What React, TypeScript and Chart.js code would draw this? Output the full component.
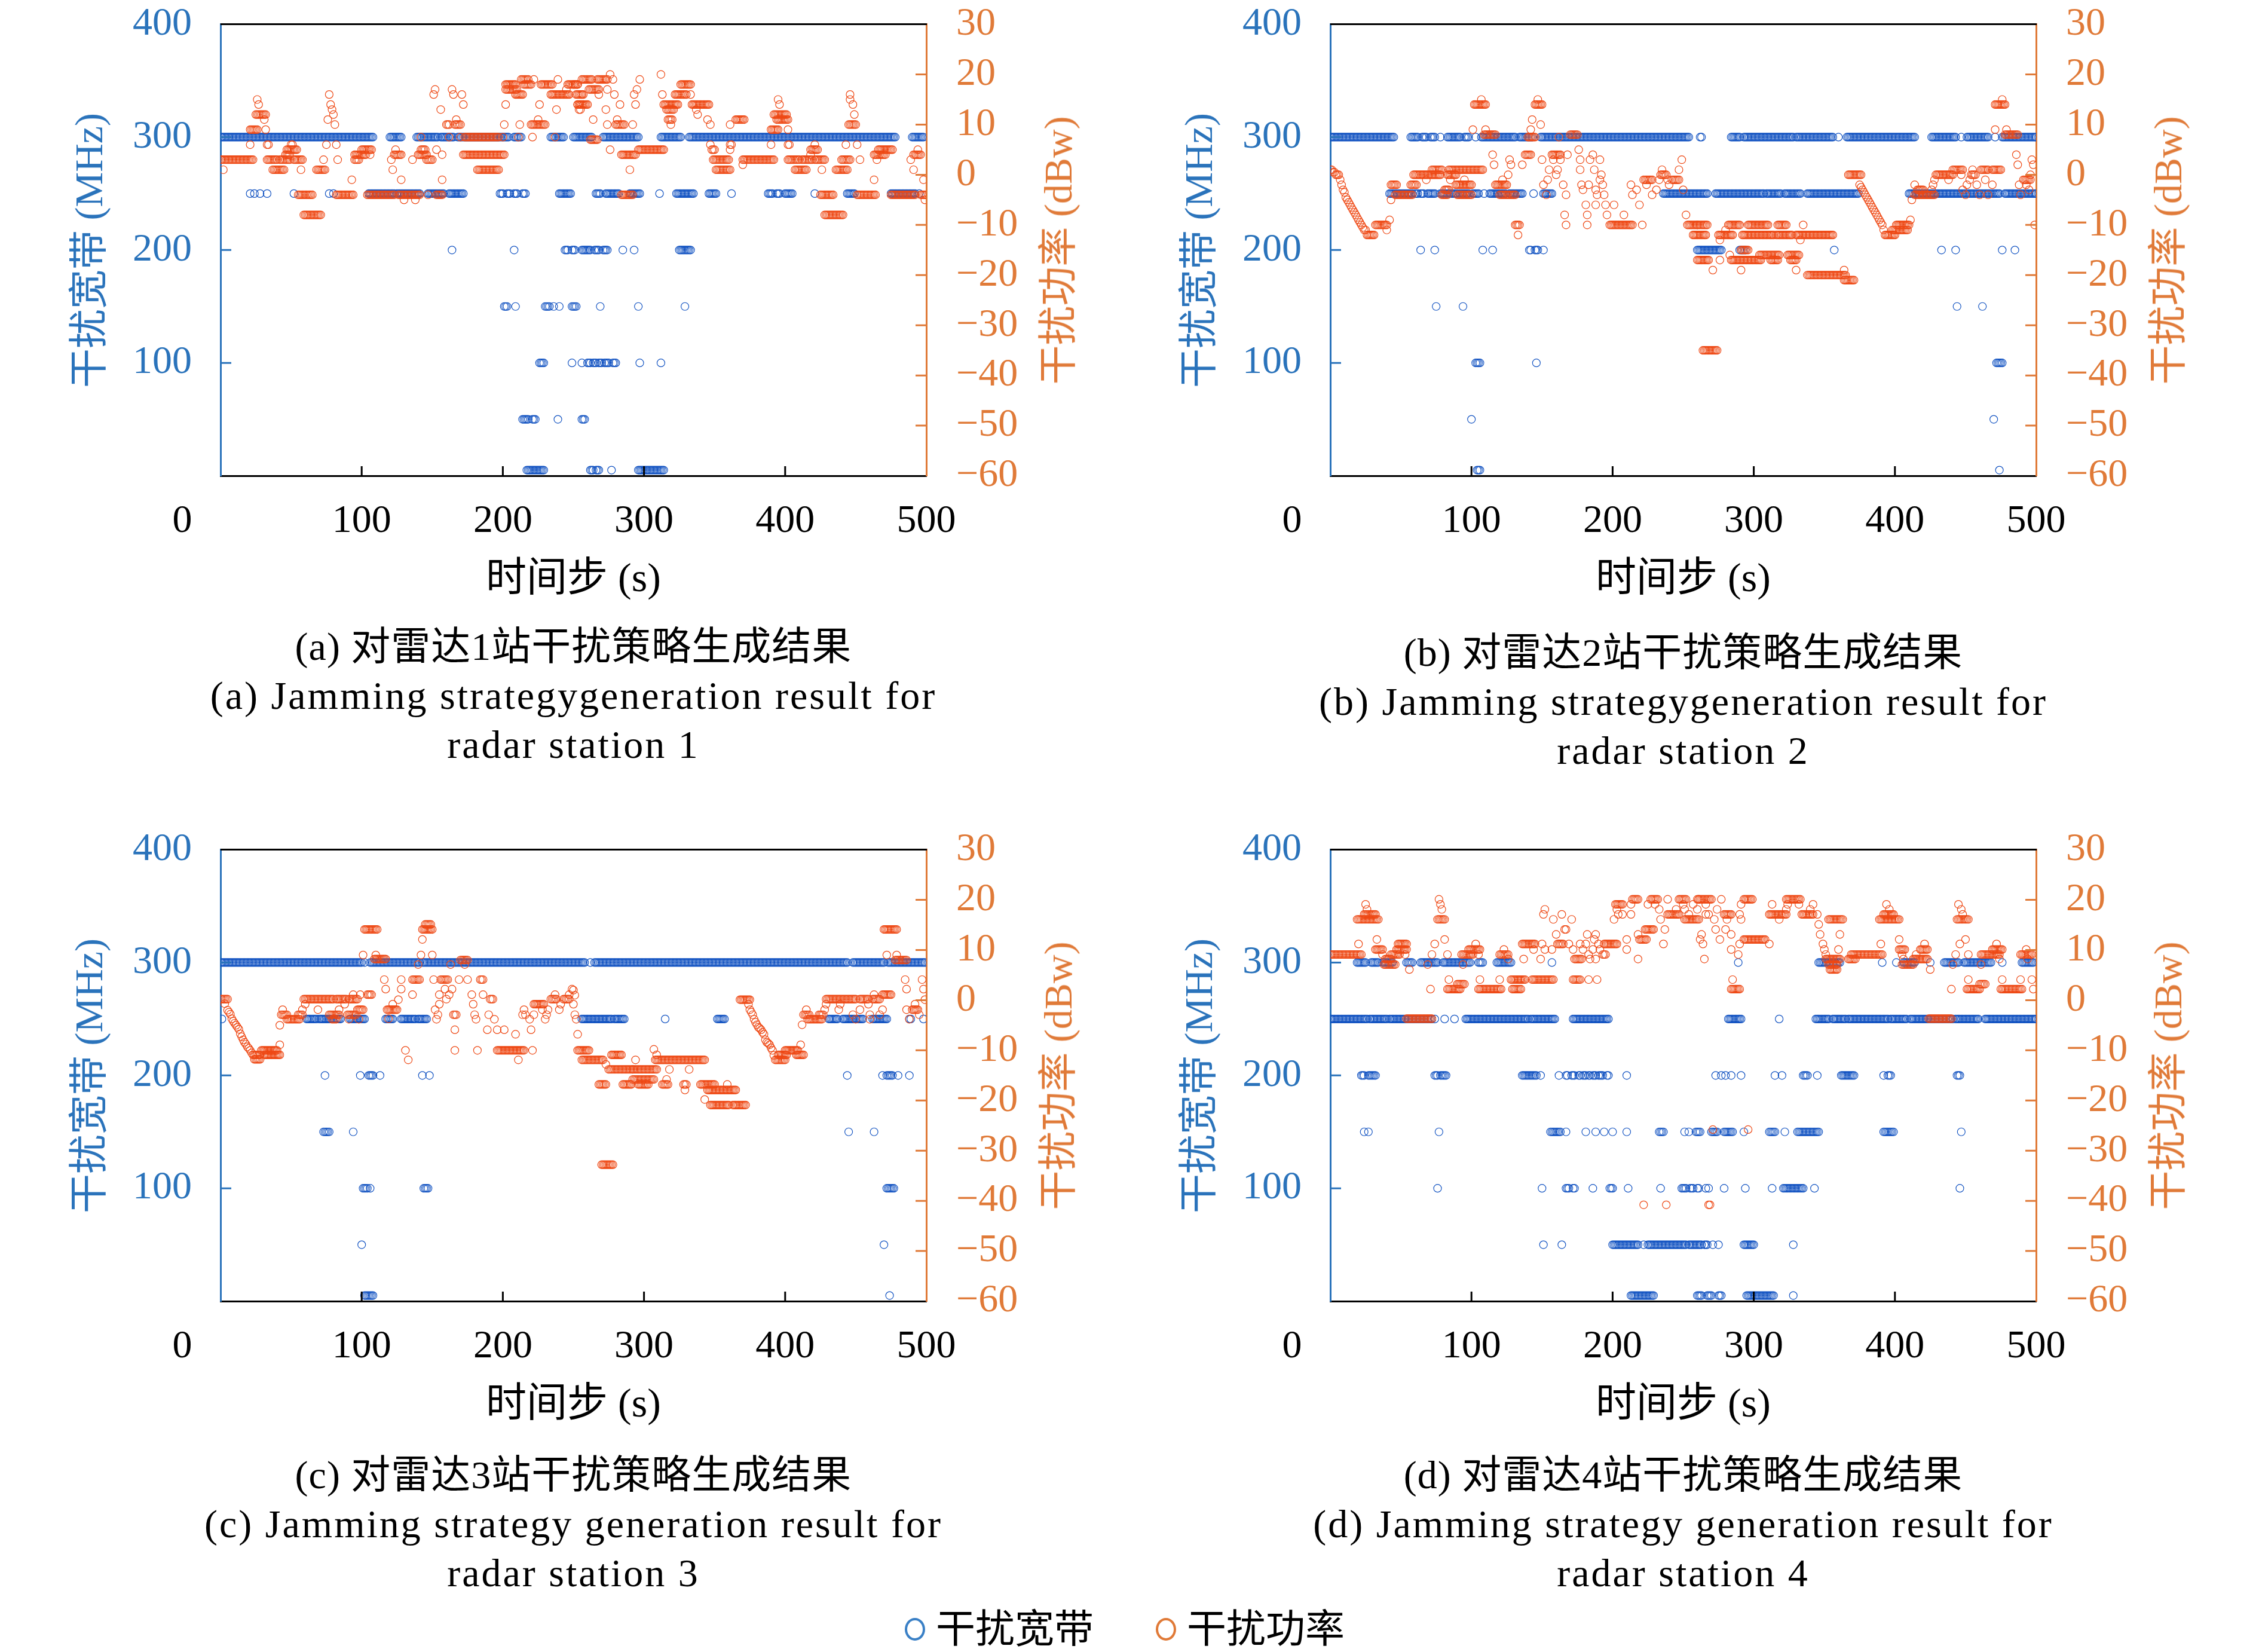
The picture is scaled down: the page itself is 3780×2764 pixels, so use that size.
import React, { useEffect, useRef } from 'react';
import { Chart, registerables } from 'chart.js';

Chart.register(...registerables);

// [first step, last step, value] - one marker per time step in the run
type Run = [number, number, number];

const X_TICKS = [100, 200, 300, 400, 500];
const BW_TICKS = [100, 200, 300, 400];
const PW_TICKS = [-60, -50, -40, -30, -20, -10, 0, 10, 20, 30];

// ---- radar station 1 ----
const A_BANDWIDTH: Run[] = [
  [0, 108, 300], [120, 128, 300], [139, 154, 300], [156, 165, 300], [168, 204, 300], [208, 213, 300], [234, 243, 300], [250, 263, 300], [271, 296, 300], [312, 326, 300], [332, 478, 300], [490, 498, 300],
  [21, 21, 250], [24, 24, 250], [28, 28, 250], [33, 33, 250], [52, 52, 250], [77, 77, 250], [80, 80, 250], [105, 123, 250], [125, 141, 250], [147, 158, 250], [162, 172, 250], [198, 200, 250], [203, 205, 250], [208, 210, 250], [214, 216, 250], [240, 248, 250], [266, 269, 250], [273, 282, 250], [290, 297, 250], [311, 311, 250], [323, 335, 250], [346, 351, 250], [362, 362, 250], [388, 391, 250], [394, 396, 250], [400, 405, 250], [421, 421, 250], [444, 449, 250], [475, 492, 250], [495, 495, 250],
  [164, 164, 200], [208, 208, 200], [244, 246, 200], [249, 251, 200], [256, 262, 200], [265, 268, 200], [271, 274, 200], [285, 285, 200], [293, 293, 200], [325, 333, 200],
  [201, 203, 150], [209, 209, 150], [230, 233, 150], [236, 236, 150], [240, 240, 150], [249, 252, 150], [269, 269, 150], [296, 296, 150], [329, 329, 150],
  [226, 229, 100], [249, 249, 100], [256, 256, 100], [260, 262, 100], [264, 266, 100], [268, 270, 100], [272, 275, 100], [278, 280, 100], [297, 297, 100], [312, 312, 100],
  [214, 218, 50], [221, 223, 50], [239, 239, 50], [256, 258, 50],
  [217, 229, 5], [262, 264, 5], [266, 268, 5], [277, 277, 5], [296, 314, 5],
];

const A_POWER: Run[] = [
  [0, 23, 3], [2, 2, 1], [21, 26, 9], [26, 26, 15], [27, 27, 14], [25, 32, 12], [31, 31, 11], [32, 32, 9], [21, 21, 6], [33, 34, 6],
  [33, 40, 3], [42, 49, 3], [52, 58, 3], [73, 73, 3], [83, 83, 3], [95, 98, 3],
  [37, 45, 1], [57, 57, 1], [68, 74, 1],
  [55, 65, -4], [82, 94, -4], [59, 71, -8],
  [46, 49, 4], [95, 103, 4], [106, 106, 4], [47, 54, 5], [100, 107, 5], [50, 51, 6], [75, 75, 6], [82, 82, 6],
  [76, 76, 11], [77, 77, 16], [78, 78, 14], [79, 79, 13], [80, 80, 12], [81, 81, 10], [93, 93, -1],
  [104, 123, -4], [126, 141, -4], [147, 147, -4], [153, 157, -4], [130, 130, -5], [138, 138, -5],
  [121, 121, 3], [136, 136, 3], [146, 150, 3], [122, 122, 1],
  [123, 128, 4], [140, 146, 4], [157, 157, 4], [124, 124, 5], [142, 145, 5], [153, 153, 5], [128, 128, -1], [157, 157, -1],
  [151, 151, 16], [152, 152, 17], [156, 156, 13], [160, 162, 10], [164, 164, 17], [165, 165, 16], [166, 170, 10], [167, 167, 11], [171, 171, 16], [172, 172, 14],
  [142, 142, 7.5], [162, 162, 7.5], [170, 170, 7.5], [173, 197, 7.5], [200, 200, 7.5], [211, 211, 7.5], [221, 221, 7.5], [237, 237, 7.5],
  [172, 201, 4], [182, 197, 1],
  [201, 201, 10], [202, 202, 14], [202, 210, 17], [202, 209, 18], [209, 214, 16], [212, 212, 10], [213, 218, 19], [215, 220, 18], [220, 230, 10], [222, 222, 19], [225, 225, 11], [226, 226, 14], [227, 235, 18], [234, 247, 16], [238, 238, 13], [239, 239, 19], [245, 245, 17], [246, 253, 18], [252, 257, 16], [253, 257, 14], [254, 254, 13], [256, 256, 19],
  [250, 253, 18], [253, 260, 14], [255, 255, 13], [256, 256, 16], [257, 263, 19], [261, 268, 17], [262, 267, 7], [264, 264, 11], [267, 274, 19], [268, 268, 16], [273, 273, 13], [274, 274, 10], [274, 274, 17], [276, 276, 20], [276, 276, 5], [278, 278, 19], [279, 279, 16], [280, 286, 10], [281, 281, 11], [283, 283, 14], [284, 294, 4], [284, 292, -4], [290, 290, 1], [292, 292, 10], [293, 293, 16], [294, 294, 14], [295, 295, 17], [296, 314, 5], [297, 297, 19],
  [312, 312, 20], [313, 313, 16], [314, 324, 14], [316, 321, 13], [317, 320, 11], [319, 319, 10], [322, 330, 16], [326, 333, 18], [333, 333, 16], [334, 346, 14], [337, 337, 13], [338, 338, 12], [345, 345, 11], [347, 347, 10], [347, 347, 6], [348, 350, 5], [349, 360, 3], [351, 361, 1], [361, 361, 10], [361, 361, 5], [361, 362, 6], [365, 371, 11], [370, 392, 3], [370, 370, 2],
  [390, 395, 9], [390, 390, 6], [392, 401, 12], [394, 402, 11], [395, 395, 15], [396, 396, 14], [402, 402, 9], [402, 403, 6], [402, 410, 3], [407, 415, 1], [412, 419, 3], [418, 423, 5], [418, 418, 4], [421, 421, 6], [421, 428, 3], [425, 434, -4], [426, 426, 1], [428, 441, -8],
  [436, 444, 1], [440, 446, 3], [443, 443, 6], [445, 450, 10], [446, 446, 15], [446, 446, 16], [448, 448, 14], [449, 449, 12], [451, 451, 6], [451, 464, -4], [453, 453, 3], [463, 463, -1], [463, 471, 4], [465, 465, 3], [466, 476, 5], [475, 492, -4], [489, 489, 3], [491, 496, 4], [491, 491, 1], [494, 494, 5], [496, 500, -4], [498, 498, -1], [499, 499, -5],
];

// ---- radar station 2 ----
const B_BANDWIDTH: Run[] = [
  [0, 45, 300], [57, 62, 300], [65, 68, 300], [71, 74, 300], [78, 78, 300], [83, 92, 300], [95, 98, 300], [103, 103, 300], [107, 131, 300], [134, 143, 300], [149, 254, 300], [262, 263, 300], [284, 290, 300], [293, 328, 300], [330, 356, 300], [360, 360, 300], [366, 414, 300], [426, 443, 300], [447, 447, 300], [451, 466, 300], [471, 471, 300], [476, 500, 300],
  [42, 58, 250], [60, 62, 250], [64, 66, 250], [69, 74, 250], [78, 90, 250], [92, 98, 250], [101, 105, 250], [109, 109, 250], [113, 124, 250], [127, 136, 250], [144, 144, 250], [151, 157, 250], [236, 267, 250], [273, 307, 250], [309, 319, 250], [322, 333, 250], [338, 374, 250], [410, 474, 250], [478, 500, 250],
  [64, 64, 200], [74, 74, 200], [108, 108, 200], [115, 115, 200], [141, 142, 200], [145, 147, 200], [151, 151, 200], [260, 277, 200], [290, 294, 200], [357, 357, 200], [433, 433, 200], [443, 443, 200], [476, 476, 200], [485, 485, 200],
  [75, 75, 150], [94, 94, 150], [444, 444, 150], [462, 462, 150],
  [103, 106, 100], [146, 146, 100], [472, 476, 100],
  [100, 100, 50], [470, 470, 50],
  [104, 106, 5], [474, 474, 5],
];

const B_POWER: Run[] = [
  [0, 1, 1], [2, 3, 0.5], [4, 6, 0], [7, 7, -1], [8, 8, -2], [9, 9, -3], [10, 10, -3.5], [11, 11, -4.5], [12, 12, -5], [13, 13, -5.5], [14, 14, -6], [15, 15, -6.5], [16, 16, -7], [17, 17, -7.5], [18, 18, -8], [19, 19, -8.5], [20, 20, -9], [21, 21, -9.5], [22, 22, -10], [23, 23, -10.5], [24, 25, -11], [26, 31, -12], [32, 40, -10], [40, 40, -11], [42, 42, -9], [43, 43, -5], [43, 47, -2], [46, 58, -4],
  [57, 61, -2], [59, 78, 0], [68, 68, -1], [72, 79, 1], [79, 83, -4], [81, 84, -3], [83, 89, 0], [84, 108, 1], [85, 85, -1], [89, 99, -2], [90, 100, -4], [95, 95, -1], [100, 100, -2],
  [101, 101, 9], [102, 110, 14], [107, 107, 15], [109, 117, 8], [110, 110, 9], [115, 115, 4], [116, 116, 2], [117, 125, -2], [120, 131, -4], [122, 122, -1], [126, 126, 0], [127, 127, 3], [128, 128, 2], [131, 134, -10], [133, 133, -12], [136, 136, 2], [138, 142, 4], [140, 145, 7.5], [142, 142, 9], [143, 143, 11], [145, 150, 14], [147, 147, 15], [149, 149, 10],
  [150, 150, 3], [151, 151, -2], [153, 153, -4], [154, 154, -1], [155, 155, 1], [157, 163, 4], [158, 158, 3], [160, 160, 0], [161, 161, 1], [162, 162, 7.5], [163, 163, 3], [165, 165, -2], [166, 166, -8], [167, 167, -10], [167, 167, -4], [168, 168, 4], [170, 175, 8], [176, 176, 5], [177, 177, 3], [177, 177, 1], [178, 178, -2], [179, 179, -3], [181, 181, -6], [182, 182, -8], [182, 182, -10], [183, 183, -2], [184, 184, 3], [186, 186, 4], [187, 187, 1], [188, 188, -3], [188, 188, -6], [189, 189, -4], [191, 191, 3], [191, 191, -1], [192, 192, 0], [193, 193, -2], [194, 194, -4], [195, 195, -6], [196, 196, -8], [198, 214, -10], [201, 201, -6], [208, 208, -8], [213, 213, -2], [214, 214, -4], [217, 217, -3], [219, 219, -6], [221, 221, -10], [222, 228, -1], [224, 224, -2], [228, 228, -4], [231, 231, -3], [233, 233, -1], [234, 238, 0], [235, 235, 1], [239, 239, -1], [240, 240, -2], [242, 247, -1], [247, 247, 1], [249, 249, 3], [250, 250, -3], [252, 252, -8], [253, 260, -10], [257, 266, -12], [260, 268, -17], [264, 274, -35],
  [260, 267, -10], [275, 285, -12], [276, 276, -13], [271, 271, -19], [276, 276, -17], [280, 280, -11], [282, 290, -10], [283, 283, -16], [284, 305, -17], [291, 296, -15], [291, 291, -19], [292, 314, -12], [296, 310, -10], [304, 318, -16], [312, 317, -17], [316, 327, -12], [317, 323, -10], [324, 332, -16], [326, 330, -17], [330, 330, -19], [330, 356, -12], [333, 333, -13], [335, 335, -10], [338, 365, -20], [364, 364, -19], [364, 371, -21],
  [367, 376, 0], [375, 375, -2], [376, 376, -2.5], [377, 377, -3], [378, 378, -3.5], [379, 379, -4], [380, 380, -4.5], [381, 381, -5], [382, 382, -5.5], [383, 383, -6], [384, 384, -6.5], [385, 385, -7], [386, 386, -7.5], [387, 387, -8], [388, 388, -8.5], [389, 389, -9], [390, 390, -9.5], [391, 391, -10], [392, 392, -11], [393, 400, -12], [398, 409, -11], [401, 410, -10], [411, 411, -9], [412, 412, -5], [414, 414, -2], [414, 428, -4], [416, 420, -3], [426, 426, -3], [427, 427, -2], [428, 428, -1], [429, 441, 0], [438, 438, -1], [441, 448, 1], [447, 447, 0], [448, 448, -3], [450, 450, -4], [451, 451, -2], [453, 453, -1], [454, 457, 0], [455, 455, 1], [458, 458, -2], [460, 460, -4], [461, 466, 1], [464, 464, -1], [466, 466, -4], [469, 469, -2], [469, 475, 1], [471, 471, 9], [471, 478, 14], [476, 476, 15], [478, 487, 8], [479, 479, 9], [486, 486, 4], [487, 487, 2], [488, 488, -2], [489, 489, -4], [491, 496, -1], [493, 493, -2], [495, 495, -3], [496, 496, 0], [497, 497, 3], [498, 498, 2], [499, 499, -10],
];

// ---- radar station 3 ----
const C_BANDWIDTH: Run[] = [
  [0, 100, 300], [102, 102, 300], [106, 141, 300], [143, 258, 300], [262, 262, 300], [265, 444, 300], [448, 470, 300], [473, 499, 300],
  [1, 1, 250], [61, 68, 250], [70, 85, 250], [92, 102, 250], [117, 122, 250], [128, 138, 250], [140, 146, 250], [256, 277, 250], [279, 286, 250], [315, 315, 250], [352, 357, 250], [431, 437, 250], [441, 455, 250], [462, 472, 250], [488, 489, 250], [498, 498, 250],
  [74, 74, 200], [99, 99, 200], [105, 108, 200], [113, 113, 200], [143, 143, 200], [148, 148, 200], [444, 444, 200], [469, 469, 200], [472, 476, 200], [480, 480, 200], [488, 488, 200],
  [73, 77, 150], [94, 94, 150], [445, 445, 150], [463, 463, 150],
  [101, 104, 100], [106, 106, 100], [144, 147, 100], [472, 477, 100],
  [100, 100, 50], [470, 470, 50],
  [102, 108, 5], [474, 474, 5],
];

const C_POWER: Run[] = [
  [0, 5, 0.2], [3, 3, -0.7], [5, 5, -2], [6, 6, -2.4], [7, 7, -2.8], [8, 8, -3.7], [9, 9, -4.2], [10, 10, -4.6], [11, 11, -5], [12, 12, -5.4], [13, 13, -5.8], [14, 14, -6.7], [15, 15, -7.3], [16, 16, -7.9], [17, 17, -8.4], [18, 18, -8.8], [19, 19, -9.3], [20, 20, -9.6], [21, 21, -10], [22, 22, -10.5], [23, 28, -10.9], [24, 28, -11.8], [29, 40, -10], [31, 42, -10.9], [42, 42, -8.9], [42, 42, -5],
  [43, 47, -2.9], [44, 44, -1.9], [47, 56, -3.8], [55, 58, -2.9], [58, 58, -1.9], [59, 80, 0.2], [60, 60, -0.8], [69, 69, -1.9], [77, 84, -2.9], [79, 82, -3.8], [82, 89, 0.2], [84, 84, -1.9], [88, 88, -0.8], [90, 96, -2.9], [91, 91, -3.8], [91, 97, 0.2], [94, 94, 1.1], [97, 101, -1.9], [98, 98, -3.8], [99, 99, 1.1], [104, 107, 1.1],
  [101, 101, 9], [102, 111, 14.1], [109, 117, 8.2], [110, 110, 9], [116, 116, 4.1], [117, 117, 2.2], [118, 125, -1.9], [119, 119, -3.7], [122, 122, -0.8], [126, 126, 0.1], [128, 128, 4.1], [128, 128, 2.2], [131, 131, -10], [133, 133, -11.9], [136, 136, 1.1], [136, 141, 4.1], [140, 140, 7.1], [142, 142, 9], [143, 143, 12.1], [143, 150, 14.1], [145, 149, 15.1], [150, 150, 9],
  [151, 151, 4.1], [152, 152, -1.9], [153, 153, -3.8], [154, 154, -2.9], [155, 155, -0.8], [155, 155, 1.1], [156, 161, 4.1], [159, 159, 2.2], [160, 160, 0.2], [162, 162, 1.1], [163, 163, 7.1], [164, 164, 2.2], [165, 167, -2.9], [166, 166, -5.9], [166, 166, -10], [169, 169, 4.1], [170, 175, 8], [173, 173, 7.1], [175, 175, 4.1], [178, 178, 1.1], [179, 179, -0.8], [180, 180, -2.9], [181, 181, -3.8], [182, 182, -10], [184, 186, 4.1], [186, 186, 1.1], [189, 189, -5.9], [190, 190, -2.9], [191, 193, 0.2], [194, 194, -3.8], [196, 196, -5.9], [196, 215, -10], [201, 201, -5.9], [209, 209, -6.8], [211, 211, -11.9], [214, 214, -2.9], [215, 215, -1.9], [216, 216, -2.9], [219, 219, -3.8], [220, 220, -5.9], [221, 221, -10], [222, 222, -2.9], [222, 229, -0.8], [228, 228, -1.9], [230, 230, -3.8], [231, 231, -2.9], [232, 232, -1.9], [234, 238, 0.2], [237, 237, 1.1], [240, 240, -1.9], [241, 241, -0.8], [243, 247, 0.2], [247, 247, 1.1], [249, 249, 2.2], [250, 250, -0.8], [251, 251, -2.9], [252, 252, -3.8], [253, 253, -6.8], [253, 261, -10], [256, 271, -11.9],
  [250, 250, 2], [251, 251, 1], [268, 273, -16.8], [270, 278, -32.8], [273, 273, -12.8], [275, 280, -13.8], [277, 284, -10.9], [281, 292, -13.8], [285, 291, -16.8], [292, 307, -15.8], [292, 309, -13.8], [294, 294, -11.9], [296, 303, -16.8], [307, 307, -9.8], [308, 343, -11.9], [309, 309, -10.9], [313, 317, -16.8], [316, 316, -15.8], [318, 318, -13.8], [328, 330, -16.8], [329, 329, -17.9], [332, 332, -13.8], [340, 350, -16.8], [343, 343, -19.8], [345, 365, -17.9], [347, 360, -20.9], [359, 359, -16.8], [363, 372, -20.9],
  [368, 375, 0.1], [374, 374, -0.8], [375, 375, -1.9], [376, 376, -2.4], [377, 377, -2.9], [378, 378, -3.8], [379, 379, -4.4], [380, 380, -4.9], [381, 381, -5.4], [382, 382, -5.6], [383, 383, -5.9], [384, 384, -6.4], [385, 385, -6.8], [386, 386, -7.9], [387, 387, -8.4], [388, 388, -8.6], [389, 389, -8.9], [390, 390, -9.5], [391, 391, -10], [392, 392, -11], [393, 400, -11.9], [395, 401, -10.9], [400, 409, -10], [408, 413, -10.9], [411, 411, -8.9], [412, 412, -4.9], [413, 417, -2.9], [415, 415, -1.9], [416, 426, -3.8], [424, 427, -2.9], [428, 428, -1.9], [429, 429, -0.8], [429, 450, 0.2], [438, 438, -1.9], [439, 439, -0.8], [448, 448, -2.9], [450, 450, -3.8], [453, 453, -1.9], [453, 459, 0.2], [459, 459, -0.8], [460, 460, -2.9], [460, 460, -3.8], [462, 467, 0.2], [463, 463, 1.1], [467, 467, -2.9], [469, 469, -1.9], [469, 475, 1.1], [470, 479, 14.1], [472, 472, 9], [478, 486, 8], [479, 479, 9], [485, 485, 4.1], [486, 486, 2.2], [486, 486, -1.9], [488, 488, -3.8], [490, 494, -1.9], [492, 492, -0.8], [495, 495, -2.9], [497, 497, 4.1], [498, 498, 2.2], [499, 499, 0.1],
];

// ---- radar station 4 ----
const D_BANDWIDTH: Run[] = [
  [19, 25, 300], [29, 34, 300], [37, 44, 300], [54, 58, 300], [64, 76, 300], [80, 99, 300], [105, 108, 300], [118, 128, 300], [157, 157, 300], [289, 289, 300], [346, 361, 300], [391, 391, 300], [401, 401, 300], [406, 414, 300], [425, 425, 300], [435, 445, 300], [449, 468, 300], [476, 476, 300], [490, 498, 300],
  [0, 26, 250], [28, 40, 250], [42, 72, 250], [74, 74, 250], [81, 81, 250], [88, 88, 250], [96, 140, 250], [142, 159, 250], [172, 197, 250], [282, 291, 250], [318, 318, 250], [344, 353, 250], [356, 365, 250], [367, 395, 250], [397, 408, 250], [411, 441, 250], [443, 459, 250], [464, 500, 250],
  [22, 24, 200], [27, 32, 200], [74, 76, 200], [78, 82, 200], [136, 146, 200], [149, 149, 200], [162, 162, 200], [167, 168, 200], [171, 173, 200], [176, 177, 200], [179, 181, 200], [183, 184, 200], [186, 188, 200], [190, 193, 200], [196, 197, 200], [210, 210, 200], [273, 273, 200], [277, 277, 200], [280, 280, 200], [284, 284, 200], [291, 291, 200], [315, 315, 200], [320, 320, 200], [335, 338, 200], [345, 345, 200], [362, 371, 200], [392, 392, 200], [395, 397, 200], [444, 446, 200],
  [24, 24, 150], [27, 27, 150], [77, 77, 150], [156, 163, 150], [167, 167, 150], [181, 181, 150], [188, 188, 150], [194, 194, 150], [200, 200, 150], [210, 210, 150], [233, 236, 150], [251, 251, 150], [254, 254, 150], [259, 262, 150], [270, 274, 150], [279, 285, 150], [293, 293, 150], [311, 315, 150], [322, 322, 150], [331, 346, 150], [392, 399, 150], [447, 447, 150],
  [76, 76, 100], [150, 150, 100], [167, 169, 100], [172, 173, 100], [186, 186, 100], [198, 200, 100], [211, 211, 100], [234, 234, 100], [249, 252, 100], [255, 257, 100], [260, 261, 100], [266, 266, 100], [268, 268, 100], [279, 279, 100], [294, 294, 100], [313, 313, 100], [321, 335, 100], [343, 343, 100], [446, 446, 100],
  [151, 151, 50], [164, 164, 50], [200, 218, 50], [222, 222, 50], [225, 252, 50], [254, 263, 50], [265, 267, 50], [271, 271, 50], [275, 275, 50], [293, 300, 50], [328, 328, 50],
  [213, 229, 5], [260, 263, 5], [267, 270, 5], [275, 277, 5], [295, 314, 5], [328, 328, 5],
];

const D_POWER: Run[] = [
  [0, 22, 9.1],
  [19, 34, 16.1], [24, 32, 17.1], [26, 26, 18.1], [25, 25, 19.1], [20, 20, 11.2], [33, 33, 12.1], [32, 37, 10.1], [37, 37, 9.1], [38, 46, 7.1], [39, 43, 8.2], [43, 49, 9.1], [47, 54, 10.1], [48, 54, 11.2], [53, 53, 9.1], [56, 56, 6.1], [54, 72, -3.7], [69, 69, 7.1], [71, 71, 2.2], [72, 72, 9.1], [74, 74, 11.2],
  [77, 77, 20.1], [78, 78, 19.1], [79, 79, 18.1], [76, 81, 16.1], [81, 81, 12.1], [83, 83, 9.1], [84, 84, 4.1], [83, 92, 2.2], [90, 95, 3.2], [94, 94, 7.1], [93, 101, 9.1], [98, 106, 10.1], [103, 103, 11.2], [105, 105, 9.1], [106, 106, 4.1], [105, 121, 2.2], [120, 120, 4.1], [120, 126, 9.1], [123, 123, 10.1], [126, 126, 8.2],
  [128, 135, 4.1], [129, 135, 2.2], [133, 138, 4.1], [137, 137, 8.2], [136, 145, 11.2], [144, 144, 10.1], [143, 150, 4.1], [149, 149, 8.2], [150, 150, 11.2], [151, 151, 17.1], [152, 152, 18.1], [152, 152, 10.1], [151, 158, 4.1], [157, 157, 10.1], [158, 158, 16.1], [160, 160, 13.1], [161, 165, 11.2], [164, 164, 17.1], [166, 167, 14.1], [169, 169, 11.2], [171, 171, 16.1], [172, 172, 10.1], [173, 178, 8.2], [172, 177, 4.1], [177, 177, 11.2], [179, 179, 10.1], [181, 181, 11.2], [182, 182, 13.1], [183, 183, 4.1], [183, 183, 9.1], [184, 184, 8.2], [186, 186, 10.1], [187, 187, 12.1], [188, 188, 13.1], [188, 188, 8.2], [189, 189, 4.1], [190, 190, 11.2], [191, 191, 10.1], [193, 195, 9.1], [194, 203, 11.2],
  [201, 201, 16.1], [202, 207, 19.1], [203, 203, 18.1], [204, 204, 17.1], [207, 207, 17.1], [210, 210, 12.1], [210, 210, 10.1], [213, 213, 17.1], [213, 213, 19.1], [214, 218, 20.1], [218, 218, 8.2], [218, 218, 13.1], [219, 224, 12.1], [222, 222, -40.8], [223, 229, 14.1], [225, 225, 19.1], [227, 232, 20.1], [230, 230, 19.1], [233, 233, 18.1], [234, 234, 16.1], [236, 236, 11.2], [237, 237, 14.1], [238, 238, -40.8], [239, 239, 20.1], [239, 247, 17.1], [245, 245, 18.1], [247, 252, 20.1], [250, 250, 19.1], [251, 251, 18.1], [251, 261, 16.1], [254, 254, 17.1], [257, 257, 19.1], [260, 260, 18.1], [261, 261, 20.1], [262, 262, 12.1], [263, 263, 13.1], [264, 264, 11.2], [265, 265, 8.2], [266, 266, 17.1], [268, 268, -40.8],
  [260, 270, 20.1], [277, 277, 20.1], [293, 299, 20.1], [323, 333, 20.1],
  [266, 266, 19.1], [291, 291, 19.1], [313, 313, 19.1], [324, 324, 19.1], [332, 332, 19.1], [342, 342, 19.1], [394, 394, 19.1], [445, 445, 19.1],
  [274, 274, 18.1], [323, 323, 18.1], [340, 340, 18.1], [396, 396, 18.1], [447, 447, 18.1],
  [268, 268, 17.1], [279, 284, 17.1], [290, 290, 17.1], [311, 323, 17.1], [334, 342, 17.1], [345, 345, 17.1], [392, 399, 17.1], [448, 448, 17.1],
  [272, 272, 16.1], [281, 281, 16.1], [291, 291, 16.1], [318, 318, 16.1], [353, 363, 16.1], [389, 403, 16.1], [444, 452, 16.1],
  [346, 346, 15.1], [273, 273, 14.1], [280, 280, 14.1], [284, 284, 13.1], [347, 347, 13.1], [361, 361, 13.1],
  [276, 276, 12.1], [293, 308, 12.1], [403, 403, 12.1], [450, 450, 12.1],
  [290, 290, 11.2], [311, 311, 11.2], [349, 349, 11.2], [390, 390, 11.2], [421, 421, 11.2], [446, 446, 11.2], [472, 472, 11.2],
  [284, 284, 10.1], [350, 350, 10.1], [360, 360, 10.1], [403, 407, 10.1], [418, 423, 10.1], [469, 476, 10.1], [493, 493, 10.1],
  [289, 289, 9.1], [351, 351, 9.1], [369, 391, 9.1], [405, 405, 9.1], [415, 415, 9.1], [443, 443, 9.1], [452, 452, 9.1], [461, 474, 9.1], [489, 497, 9.1],
  [351, 361, 8.2], [367, 372, 8.2], [406, 406, 8.2], [413, 423, 8.2], [474, 474, 8.2], [494, 494, 8.2],
  [353, 359, 7.1], [405, 413, 7.1], [441, 441, 7.1], [461, 461, 7.1],
  [354, 359, 6.1], [425, 425, 6.1],
  [285, 285, 4.1], [452, 452, 4.1], [476, 476, 4.1], [489, 489, 4.1], [497, 497, 4.1],
  [460, 464, 3.2],
  [284, 290, 2.2], [440, 440, 2.2], [451, 460, 2.2], [475, 490, 2.2], [498, 498, 2.2],
  [424, 440, -3.7],
  [271, 271, -25.8], [296, 296, -25.8],
  [269, 269, -40.8],
];

const FONT = "'Liberation Serif', 'Noto Sans CJK SC', serif";
const BLUE = '#2a73bb';
const ORANGE = '#e07a38';
const BLUE_MARK = '#1454c2';
const ORANGE_MARK = '#ee4814';

const PLOT_W = 1181;
const PLOT_H = 755;
const AXIS_L = 369;
const AXIS_R = 210;
const AXIS_B = 124;

const expand = (runs: Run[]) => {
  const pts: { x: number; y: number }[] = [];
  for (const [a, b, v] of runs) {
    for (let s = a; s <= b; s++) pts.push({ x: s, y: v });
  }
  return pts;
};

const fmt = (v: number) => (v < 0 ? '\u2212' + Math.abs(v) : String(v));

// top frame line and the inward tick marks
const framePlugin = {
  id: 'frame',
  afterDraw(chart: any) {
    const { ctx, chartArea } = chart;
    const { left, right, top, bottom } = chartArea;
    const { x, y, y1 } = chart.scales;
    ctx.save();
    ctx.lineWidth = 3;
    ctx.strokeStyle = '#000';
    ctx.beginPath();
    ctx.moveTo(left, top);
    ctx.lineTo(right + 1, top);
    X_TICKS.filter((v) => v < 500).forEach((v) => {
      const px = x.getPixelForValue(v);
      ctx.moveTo(px, bottom);
      ctx.lineTo(px, bottom - 16);
    });
    ctx.stroke();
    ctx.strokeStyle = BLUE;
    ctx.beginPath();
    BW_TICKS.filter((v) => v < 400).forEach((v) => {
      const py = y.getPixelForValue(v);
      ctx.moveTo(left, py);
      ctx.lineTo(left + 18, py);
    });
    ctx.stroke();
    ctx.strokeStyle = ORANGE;
    ctx.beginPath();
    PW_TICKS.filter((v) => v > -60 && v < 30).forEach((v) => {
      const py = y1.getPixelForValue(v);
      ctx.moveTo(right, py);
      ctx.lineTo(right - 18, py);
    });
    ctx.stroke();
    ctx.restore();
  },
};

const Text: React.FC<{ x: number; y: number; color?: string; size?: number; spacing?: number; rotate?: boolean; children: React.ReactNode }> = ({ x, y, color = '#000', size = 64, spacing = 0, rotate, children }) => (
  <div
    style={{
      position: 'absolute',
      left: x,
      top: y,
      transform: `translate(-50%, -50%)${rotate ? ' rotate(-90deg)' : ''}`,
      color,
      fontSize: size,
      fontFamily: FONT,
      letterSpacing: spacing,
      lineHeight: 1,
      whiteSpace: 'nowrap',
    }}
  >
    {children}
  </div>
);

interface PanelProps {
  bandwidth: Run[];
  power: Run[];
  plotLeft: number;
  plotTop: number;
  caption: string[];
  captionGap: number;
}

const Panel: React.FC<PanelProps> = ({ bandwidth, power, plotLeft, plotTop, caption, captionGap }) => {
  const canvasRef = useRef<HTMLCanvasElement>(null);
  const chartRef = useRef<Chart | null>(null);
  const cw = AXIS_L + PLOT_W + AXIS_R;

  useEffect(() => {
    const canvas = canvasRef.current;
    if (!canvas) return;
    if (chartRef.current) chartRef.current.destroy();
    const tickFont = { family: FONT, size: 66 };

    const build = () =>
      new Chart(canvas, {
        type: 'scatter',
        data: {
          datasets: [
            {
              label: '干扰功率',
              data: expand(power),
              yAxisID: 'y1',
              order: 0,
              pointStyle: 'circle',
              pointRadius: 6.5,
              borderWidth: 1.2,
              borderColor: ORANGE_MARK,
              backgroundColor: 'rgba(0,0,0,0)',
            },
            {
              label: '干扰宽带',
              data: expand(bandwidth),
              yAxisID: 'y',
              order: 1,
              pointStyle: 'circle',
              pointRadius: 6.5,
              borderWidth: 1.2,
              borderColor: BLUE_MARK,
              backgroundColor: 'rgba(0,0,0,0)',
            },
          ],
        },
        options: {
          responsive: false,
          maintainAspectRatio: false,
          animation: false,
          devicePixelRatio: 1,
          events: [],
          layout: { padding: 0 },
          plugins: { legend: { display: false }, tooltip: { enabled: false } },
          scales: {
            x: {
              type: 'linear',
              min: 0,
              max: 500,
              afterBuildTicks: (s: any) => { s.ticks = X_TICKS.map((value) => ({ value })); },
              afterFit: (s: any) => { s.height = AXIS_B; },
              grid: { display: false, drawTicks: false },
              border: { display: true, color: '#000', width: 3 },
              ticks: { font: tickFont, color: '#000', padding: 37, maxRotation: 0, autoSkip: false, callback: (v: any) => fmt(Number(v)) },
            },
            y: {
              type: 'linear',
              position: 'left',
              min: 0,
              max: 400,
              afterBuildTicks: (s: any) => { s.ticks = BW_TICKS.map((value) => ({ value })); },
              afterFit: (s: any) => { s.width = AXIS_L; },
              grid: { display: false, drawTicks: false },
              border: { display: true, color: BLUE, width: 3 },
              ticks: { font: tickFont, color: BLUE, padding: 48, autoSkip: false, callback: (v: any) => fmt(Number(v)) },
            },
            y1: {
              type: 'linear',
              position: 'right',
              min: -60,
              max: 30,
              afterBuildTicks: (s: any) => { s.ticks = PW_TICKS.map((value) => ({ value })); },
              afterFit: (s: any) => { s.width = AXIS_R; },
              grid: { display: false, drawTicks: false },
              border: { display: true, color: ORANGE, width: 3 },
              ticks: { font: tickFont, color: ORANGE, padding: 50, autoSkip: false, callback: (v: any) => fmt(Number(v)) },
            },
          },
        },
        plugins: [framePlugin],
      });

    const sizeCanvas = (h: number, offset: number) => {
      canvas.width = cw;
      canvas.height = h;
      canvas.style.width = `${cw}px`;
      canvas.style.height = `${h}px`;
      canvas.style.left = `${plotLeft - AXIS_L}px`;
      canvas.style.top = `${plotTop - offset}px`;
    };

    // first pass: find how much room the labels take above the plot, then size the canvas so the plot is exact
    sizeCanvas(1000, 0);
    let chart = build();
    const headroom = Math.round(chart.chartArea.top);
    chart.destroy();
    sizeCanvas(headroom + PLOT_H + AXIS_B, headroom);
    chart = build();
    chartRef.current = chart;

    return () => {
      if (chartRef.current) {
        chartRef.current.destroy();
        chartRef.current = null;
      }
    };
  }, [bandwidth, power, plotLeft, plotTop]);

  const cx = plotLeft + PLOT_W / 2;
  const cy = plotTop + PLOT_H / 2;
  const bottom = plotTop + PLOT_H;

  return (
    <>
      <canvas ref={canvasRef} style={{ position: 'absolute' }} />
      <Text x={plotLeft - 220} y={cy} color={BLUE} size={66} rotate>干扰宽带 (MHz)</Text>
      <Text x={plotLeft + PLOT_W + 221} y={cy} color={ORANGE} size={66} rotate>干扰功率 (dBw)</Text>
      <Text x={plotLeft - 64} y={bottom + 72} size={66}>0</Text>
      <Text x={cx} y={bottom + 170} size={68}>时间步 (s)</Text>
      {caption.map((line, i) => (
        <Text key={i} x={cx} y={bottom + captionGap + i * 82} size={66} spacing={i === 0 ? 1 : 3}>{line}</Text>
      ))}
    </>
  );
};

const LegendItem: React.FC<{ x: number; color: string; label: string }> = ({ x, color, label }) => (
  <div style={{ position: 'absolute', left: x, top: 2726, transform: 'translateY(-50%)', display: 'flex', alignItems: 'center', fontFamily: FONT, fontSize: 66, lineHeight: 1 }}>
    <span style={{ display: 'inline-block', width: 34, height: 38, border: `4px solid ${color}`, borderRadius: '50%', marginRight: 18, boxSizing: 'border-box' }} />
    <span>{label}</span>
  </div>
);

export default function App() {
  return (
    <div style={{ position: 'absolute', left: 0, top: 0, width: 3780, height: 2764, background: '#fff', overflow: 'hidden' }}>
      <Panel
        bandwidth={A_BANDWIDTH}
        power={A_POWER}
        plotLeft={369}
        plotTop={41}
        captionGap={286}
        caption={['(a) 对雷达1站干扰策略生成结果', '(a) Jamming strategygeneration result for', 'radar station 1']}
      />
      <Panel
        bandwidth={B_BANDWIDTH}
        power={B_POWER}
        plotLeft={2226}
        plotTop={41}
        captionGap={296}
        caption={['(b) 对雷达2站干扰策略生成结果', '(b) Jamming strategygeneration result for', 'radar station 2']}
      />
      <Panel
        bandwidth={C_BANDWIDTH}
        power={C_POWER}
        plotLeft={369}
        plotTop={1422}
        captionGap={291}
        caption={['(c) 对雷达3站干扰策略生成结果', '(c) Jamming strategy generation result for', 'radar station 3']}
      />
      <Panel
        bandwidth={D_BANDWIDTH}
        power={D_POWER}
        plotLeft={2226}
        plotTop={1422}
        captionGap={291}
        caption={['(d) 对雷达4站干扰策略生成结果', '(d) Jamming strategy generation result for', 'radar station 4']}
      />
      <LegendItem x={1514} color="#3a80c6" label="干扰宽带" />
      <LegendItem x={1934} color="#e07a38" label="干扰功率" />
    </div>
  );
}
